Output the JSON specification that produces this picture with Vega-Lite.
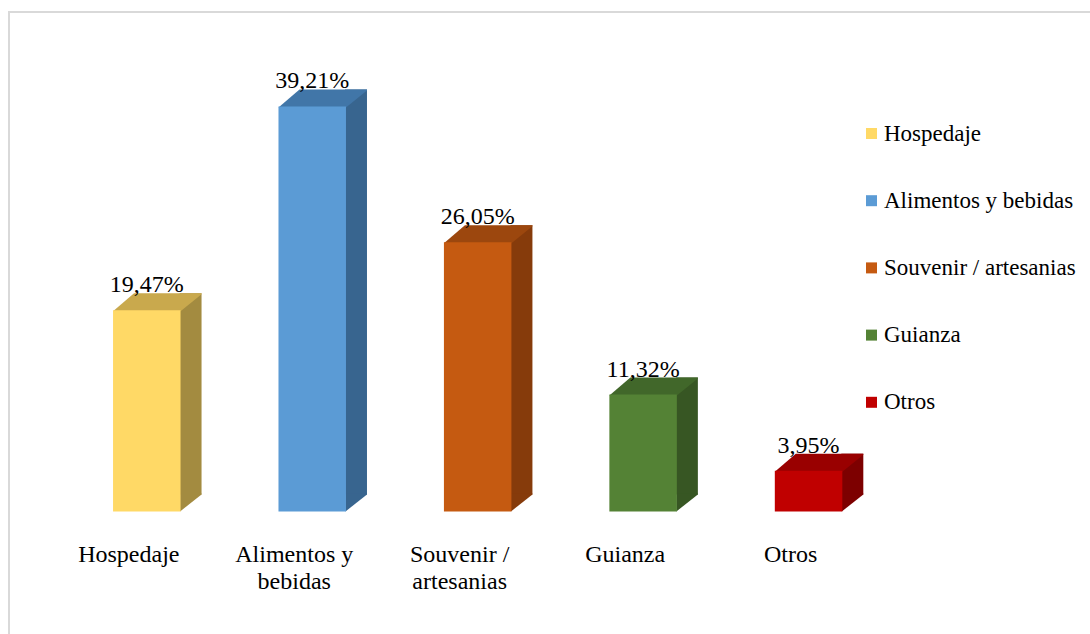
{
  "$schema": "https://vega.github.io/schema/vega-lite/v6.json",
  "width": 1081,
  "height": 622,
  "padding": {"left": 9, "top": 12, "right": 0, "bottom": 0},
  "autosize": {"type": "none"},
  "background": "white",
  "config": {
    "view": {"stroke": "#d9d9d9", "strokeWidth": 2, "strokeDash": [1081, 1703, 622]},
    "font": "Liberation Serif"
  },
  "data": {
    "values": [
      {"categoria": "Hospedaje", "pct": 19.47},
      {"categoria": "Alimentos y bebidas", "pct": 39.21},
      {"categoria": "Souvenir / artesanias", "pct": 26.05},
      {"categoria": "Guianza", "pct": 11.32},
      {"categoria": "Otros", "pct": 3.95}
    ]
  },
  "encoding": {
    "x": {
      "field": "categoria",
      "type": "nominal",
      "sort": null,
      "scale": {"paddingInner": 0, "paddingOuter": 0.767, "align": 0.217},
      "axis": {
        "title": null,
        "domain": false,
        "ticks": false,
        "grid": false,
        "labelAngle": 0,
        "labelFont": "Liberation Serif",
        "labelFontSize": 24,
        "labelColor": "#000000",
        "labelOffset": -18,
        "offset": -73,
        "labelPadding": 0,
        "labelBaseline": "alphabetic",
        "labelLineHeight": 27,
        "labelOverlap": false,
        "labelLimit": 300,
        "labelExpr": "datum.value == 'Alimentos y bebidas' ? ['Alimentos y', 'bebidas'] : datum.value == 'Souvenir / artesanias' ? ['Souvenir /', 'artesanias'] : datum.value"
      }
    },
    "y": {
      "field": "pct",
      "type": "quantitative",
      "scale": {"domain": [-11.86, 48.35], "nice": false, "zero": false},
      "axis": null
    }
  },
  "layer": [
    {
      "mark": {"type": "bar", "width": 22, "xOffset": 43.75, "yOffset": -17, "y2Offset": -17},
      "encoding": {
        "y2": {"datum": 0},
        "color": {
          "field": "categoria", "type": "nominal", "sort": null, "legend": null,
          "scale": {"domain": ["Hospedaje", "Alimentos y bebidas", "Souvenir / artesanias", "Guianza", "Otros"],
                    "range": ["#a38b40", "#38658f", "#863b0b", "#375623", "#7d0000"]}
        }
      }
    },
    {
      "mark": {"type": "point", "filled": true, "opacity": 1, "strokeWidth": 0, "size": 4,
               "shape": "M33.25,-18L33.25,0L54.75,-17L54.75,-18Z"},
      "encoding": {
        "y": {"datum": 0},
        "color": {
          "field": "categoria", "type": "nominal", "sort": null, "legend": null,
          "scale": {"domain": ["Hospedaje", "Alimentos y bebidas", "Souvenir / artesanias", "Guianza", "Otros"],
                    "range": ["#a38b40", "#38658f", "#863b0b", "#375623", "#7d0000"]}
        }
      }
    },
    {
      "mark": {"type": "point", "filled": true, "opacity": 1, "strokeWidth": 0, "size": 4,
               "shape": "M-33.75,1L33.75,1L54.75,-16L54.75,-17L-12.75,-17Z"},
      "encoding": {
        "color": {
          "field": "categoria", "type": "nominal", "sort": null, "legend": null,
          "scale": {"domain": ["Hospedaje", "Alimentos y bebidas", "Souvenir / artesanias", "Guianza", "Otros"],
                    "range": ["#c9a94d", "#4176a8", "#9c470e", "#41672a", "#990000"]}
        }
      }
    },
    {
      "mark": {"type": "bar", "width": 67.5},
      "encoding": {
        "y2": {"datum": 0},
        "color": {
          "field": "categoria", "type": "nominal", "sort": null,
          "scale": {"domain": ["Hospedaje", "Alimentos y bebidas", "Souvenir / artesanias", "Guianza", "Otros"],
                    "range": ["#ffd966", "#5b9bd5", "#c55a11", "#548235", "#c00000"]},
          "legend": {
            "title": null,
            "orient": "none",
            "legendX": 851,
            "legendY": 110,
            "padding": 0,
            "symbolType": "square",
            "symbolSize": 121,
            "symbolStrokeWidth": 0,
            "labelFont": "Liberation Serif",
            "labelFontSize": 23,
            "labelColor": "#000000",
            "labelOffset": 1,
            "labelLimit": 300,
            "rowPadding": 43.2
          }
        }
      }
    },
    {
      "transform": [{"calculate": "replace(format(datum.pct, '.2f'), '.', ',') + '%'", "as": "etiqueta"}],
      "mark": {"type": "text", "dy": -18, "baseline": "alphabetic", "align": "center",
               "font": "Liberation Serif", "fontSize": 24, "color": "#000000"},
      "encoding": {"text": {"field": "etiqueta", "type": "nominal"}}
    }
  ],
  "resolve": {"scale": {"color": "independent"}, "legend": {"color": "independent"}}
}
